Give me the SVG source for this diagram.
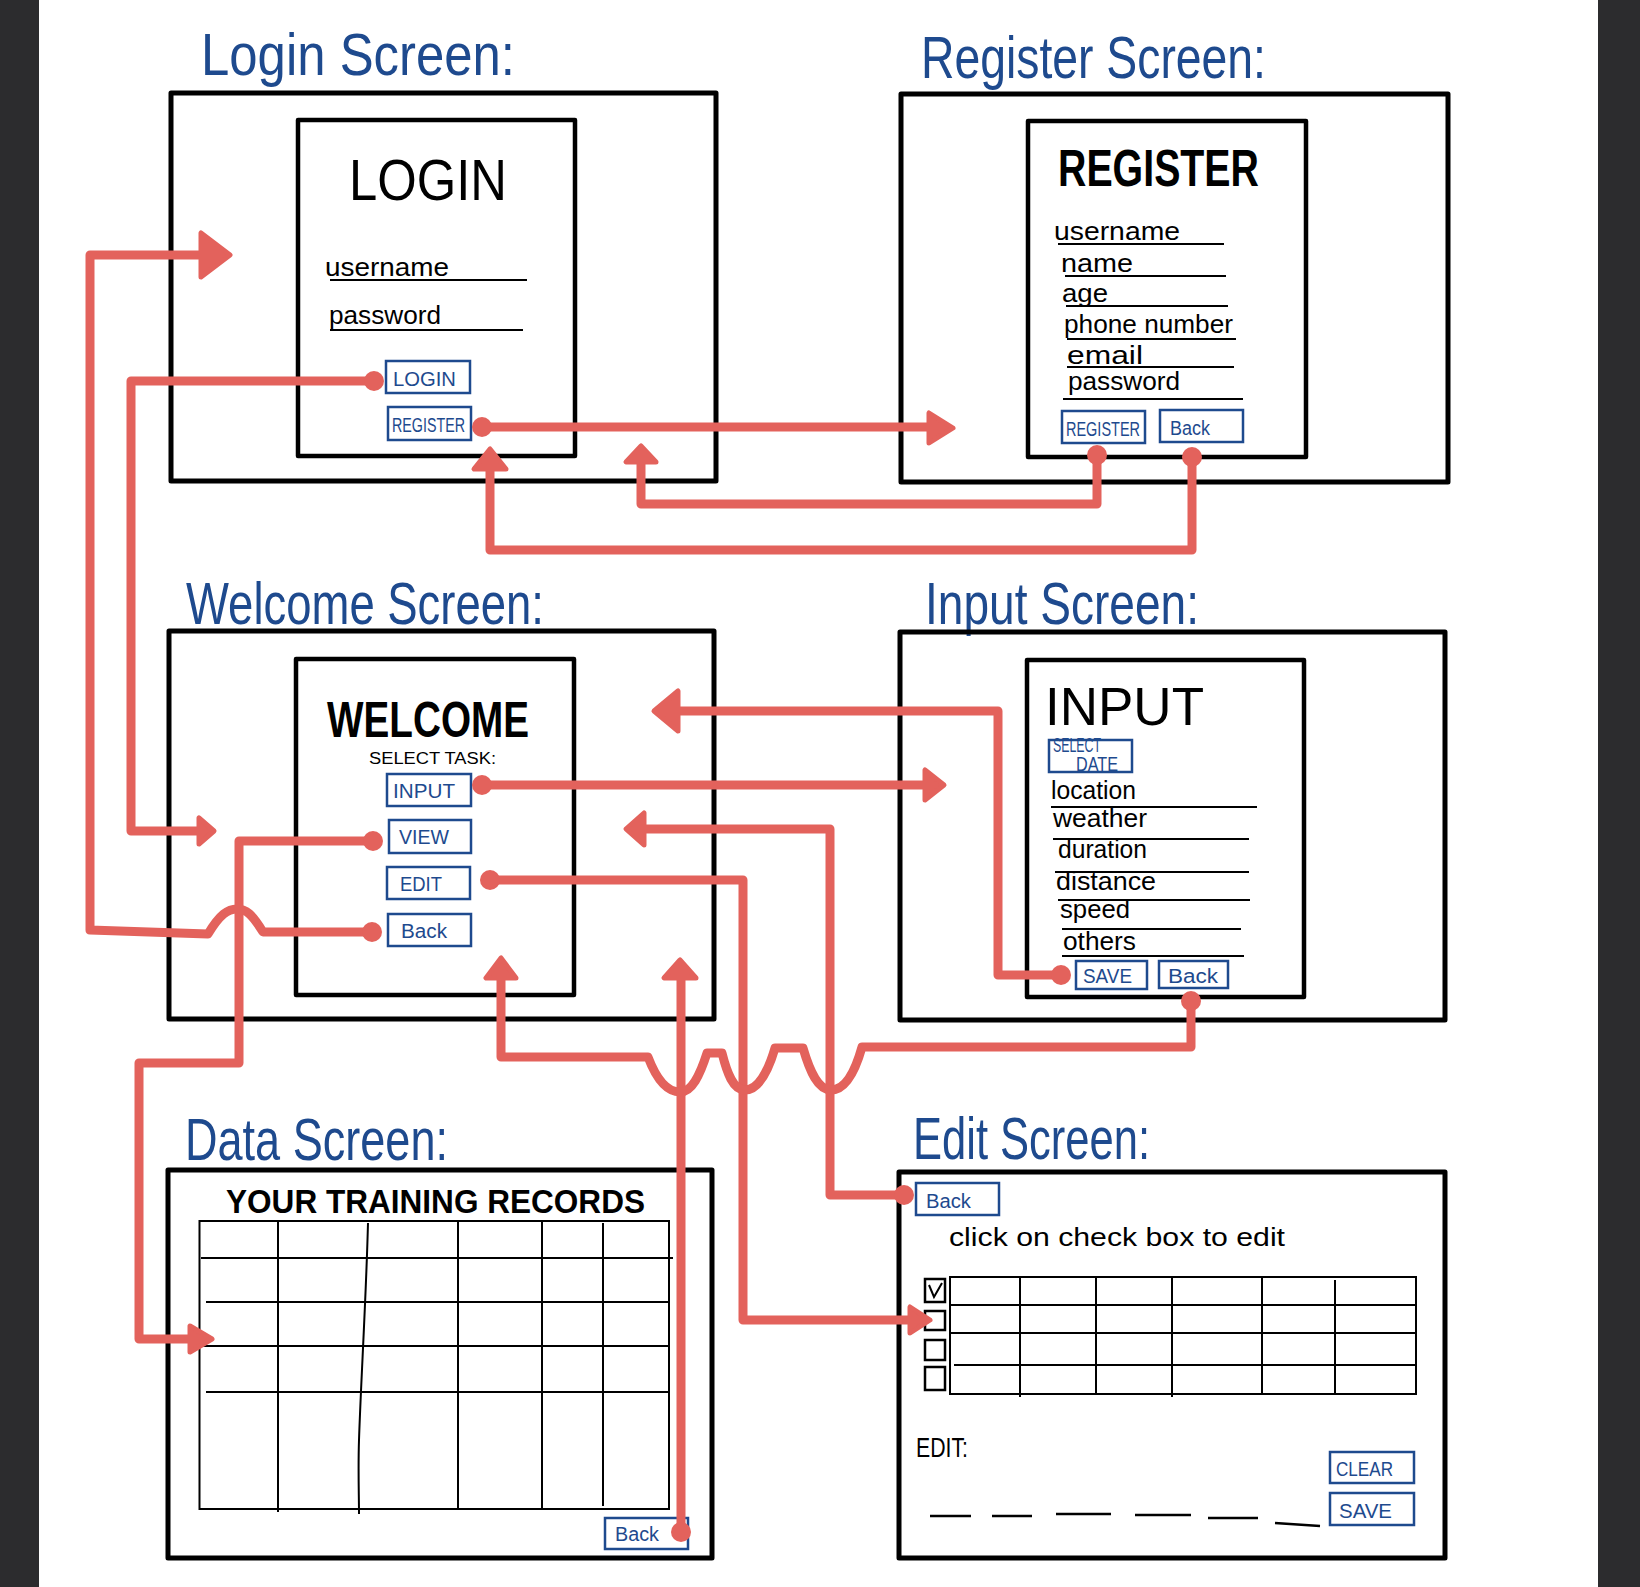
<svg xmlns="http://www.w3.org/2000/svg" width="1640" height="1587" viewBox="0 0 1640 1587">
<style>
.bg{fill:#2c2c2e}
.box{fill:none;stroke:#000;stroke-width:5;stroke-linejoin:round}
.inner{fill:none;stroke:#000;stroke-width:4.5;stroke-linejoin:round}
.ln{stroke:#000;stroke-width:2;fill:none}
.tl{stroke:#000;stroke-width:2;fill:none}
.btn{fill:#fff;stroke:#1e4a8e;stroke-width:2.5}
.title{font-family:"Liberation Sans",Arial,sans-serif;font-size:60px;fill:#1e4a8e}
.bt{font-family:"Liberation Sans",Arial,sans-serif;fill:#1e4a8e;font-size:20px}
.hd{font-family:"Liberation Sans",Arial,sans-serif;fill:#000}
.hb{font-family:"Liberation Sans",Arial,sans-serif;fill:#000;font-weight:bold}
.fld{font-family:"Liberation Sans",Arial,sans-serif;fill:#000;font-size:25px}
.conn{fill:none;stroke:#e3625c;stroke-width:9;stroke-linejoin:round;stroke-linecap:round}
.ah{fill:#e3625c;stroke:#e3625c;stroke-width:5;stroke-linejoin:round}
.dot{fill:#e3625c}
</style>
<rect x="0" y="0" width="1640" height="1587" fill="#fff"/>
<rect class="bg" x="0" y="0" width="39" height="1587"/>
<rect class="bg" x="1598" y="0" width="42" height="1587"/>

<g id="login-screen">
<text class="title" x="201" y="75" textLength="314" lengthAdjust="spacingAndGlyphs">Login Screen:</text>
<rect class="box" x="171" y="93" width="545" height="388"/>
<rect class="inner" x="298" y="120" width="277" height="336"/>
<text class="hd" x="349" y="200" font-size="57" textLength="158" lengthAdjust="spacingAndGlyphs">LOGIN</text>
<text class="fld" x="325" y="276" textLength="124" lengthAdjust="spacingAndGlyphs">username</text>
<line class="ln" x1="330" y1="280" x2="527" y2="280"/>
<text class="fld" x="329" y="324" textLength="112" lengthAdjust="spacingAndGlyphs">password</text>
<line class="ln" x1="330" y1="330" x2="523" y2="330"/>
<rect class="btn" x="386" y="361" width="84" height="32"/>
<text class="bt" x="393" y="386" font-size="19" textLength="63" lengthAdjust="spacingAndGlyphs">LOGIN</text>
<rect class="btn" x="388" y="407" width="83" height="33"/>
<text class="bt" x="392" y="432" font-size="18" textLength="73" lengthAdjust="spacingAndGlyphs">REGISTER</text>
</g>

<g id="register-screen">
<text class="title" x="921" y="78" textLength="345" lengthAdjust="spacingAndGlyphs">Register Screen:</text>
<rect class="box" x="901" y="94" width="547" height="388"/>
<rect class="inner" x="1028" y="121" width="278" height="336"/>
<text class="hb" x="1058" y="186" font-size="52" textLength="201" lengthAdjust="spacingAndGlyphs">REGISTER</text>
<text class="fld" x="1054" y="240" textLength="126" lengthAdjust="spacingAndGlyphs">username</text>
<line class="ln" x1="1058" y1="244" x2="1224" y2="244"/>
<text class="fld" x="1061" y="272" textLength="72" lengthAdjust="spacingAndGlyphs">name</text>
<line class="ln" x1="1065" y1="276" x2="1226" y2="276"/>
<text class="fld" x="1062" y="302" textLength="46" lengthAdjust="spacingAndGlyphs">age</text>
<line class="ln" x1="1066" y1="306" x2="1228" y2="306"/>
<text class="fld" x="1064" y="333" textLength="169" lengthAdjust="spacingAndGlyphs">phone number</text>
<line class="ln" x1="1067" y1="339" x2="1236" y2="339"/>
<text class="fld" x="1067" y="364" textLength="76" lengthAdjust="spacingAndGlyphs">email</text>
<line class="ln" x1="1067" y1="367" x2="1234" y2="367"/>
<text class="fld" x="1068" y="390" textLength="112" lengthAdjust="spacingAndGlyphs">password</text>
<line class="ln" x1="1063" y1="399" x2="1243" y2="399"/>
<rect class="btn" x="1062" y="411" width="83" height="32"/>
<text class="bt" x="1066" y="436" font-size="18" textLength="74" lengthAdjust="spacingAndGlyphs">REGISTER</text>
<rect class="btn" x="1160" y="410" width="83" height="32"/>
<text class="bt" x="1170" y="435" textLength="40" lengthAdjust="spacingAndGlyphs">Back</text>
</g>

<g id="welcome-screen">
<text class="title" x="186" y="624" textLength="358" lengthAdjust="spacingAndGlyphs">Welcome Screen:</text>
<rect class="box" x="169" y="631" width="545" height="388"/>
<rect class="inner" x="296" y="659" width="278" height="336"/>
<text class="hb" x="327" y="737" font-size="50" textLength="202" lengthAdjust="spacingAndGlyphs">WELCOME</text>
<text class="hd" x="369" y="764" font-size="16" textLength="127" lengthAdjust="spacingAndGlyphs">SELECT TASK:</text>
<rect class="btn" x="387" y="774" width="84" height="32"/>
<text class="bt" x="393" y="798" textLength="62" lengthAdjust="spacingAndGlyphs">INPUT</text>
<rect class="btn" x="389" y="820" width="82" height="33"/>
<text class="bt" x="399" y="844" textLength="50" lengthAdjust="spacingAndGlyphs">VIEW</text>
<rect class="btn" x="387" y="867" width="83" height="32"/>
<text class="bt" x="400" y="891" textLength="42" lengthAdjust="spacingAndGlyphs">EDIT</text>
<rect class="btn" x="388" y="914" width="83" height="32"/>
<text class="bt" x="401" y="938" font-size="22" textLength="46" lengthAdjust="spacingAndGlyphs">Back</text>
</g>

<g id="input-screen">
<text class="title" x="925" y="624" textLength="274" lengthAdjust="spacingAndGlyphs">Input Screen:</text>
<rect class="box" x="900" y="632" width="545" height="388"/>
<rect class="inner" x="1027" y="660" width="277" height="337"/>
<text class="hd" x="1045" y="725" font-size="54" textLength="159" lengthAdjust="spacingAndGlyphs">INPUT</text>
<rect class="btn" x="1049" y="740" width="83" height="32"/>
<text class="bt" x="1053" y="752" font-size="9" textLength="48" lengthAdjust="spacingAndGlyphs">SELECT</text>
<text class="bt" x="1076" y="771" font-size="9" textLength="42" lengthAdjust="spacingAndGlyphs">DATE</text>
<text class="fld" x="1051" y="799" textLength="85" lengthAdjust="spacingAndGlyphs">location</text>
<line class="ln" x1="1051" y1="807" x2="1257" y2="807"/>
<text class="fld" x="1053" y="827" textLength="94" lengthAdjust="spacingAndGlyphs">weather</text>
<line class="ln" x1="1053" y1="839" x2="1249" y2="839"/>
<text class="fld" x="1058" y="858" textLength="89" lengthAdjust="spacingAndGlyphs">duration</text>
<line class="ln" x1="1055" y1="872" x2="1249" y2="872"/>
<text class="fld" x="1056" y="890" textLength="100" lengthAdjust="spacingAndGlyphs">distance</text>
<line class="ln" x1="1058" y1="900" x2="1250" y2="900"/>
<text class="fld" x="1060" y="918" textLength="70" lengthAdjust="spacingAndGlyphs">speed</text>
<line class="ln" x1="1062" y1="929" x2="1241" y2="929"/>
<text class="fld" x="1063" y="950" textLength="73" lengthAdjust="spacingAndGlyphs">others</text>
<line class="ln" x1="1062" y1="956" x2="1244" y2="956"/>
<rect class="btn" x="1076" y="961" width="71" height="28"/>
<text class="bt" x="1083" y="983" font-size="19" textLength="49" lengthAdjust="spacingAndGlyphs">SAVE</text>
<rect class="btn" x="1159" y="961" width="69" height="27"/>
<text class="bt" x="1168" y="983" font-size="19" textLength="50" lengthAdjust="spacingAndGlyphs">Back</text>
</g>

<g id="data-screen">
<text class="title" x="185" y="1160" textLength="263" lengthAdjust="spacingAndGlyphs">Data Screen:</text>
<rect class="box" x="168" y="1170" width="544" height="388"/>
<text class="hb" x="226" y="1213" font-size="34" textLength="419" lengthAdjust="spacingAndGlyphs">YOUR TRAINING RECORDS</text>
<rect class="tl" x="199.5" y="1221" width="469.5" height="288"/>
<line class="tl" x1="201" y1="1258" x2="673" y2="1258"/>
<line class="tl" x1="206" y1="1302" x2="670" y2="1302"/>
<line class="tl" x1="199" y1="1346" x2="669" y2="1346"/>
<line class="tl" x1="206" y1="1392" x2="669" y2="1392"/>
<line class="tl" x1="278" y1="1221" x2="278" y2="1512"/>
<path class="tl" d="M368 1223 C366 1300 361 1380 359 1440 C358 1470 359 1495 359 1514"/>
<line class="tl" x1="458" y1="1221" x2="458" y2="1509"/>
<line class="tl" x1="542" y1="1221" x2="542" y2="1509"/>
<line class="tl" x1="603" y1="1223" x2="603" y2="1506"/>
<rect class="btn" x="605" y="1518" width="83" height="31"/>
<text class="bt" x="615" y="1541" textLength="44" lengthAdjust="spacingAndGlyphs">Back</text>
</g>

<g id="edit-screen">
<text class="title" x="913" y="1159" textLength="237" lengthAdjust="spacingAndGlyphs">Edit Screen:</text>
<rect class="box" x="899" y="1172" width="546" height="386"/>
<rect class="btn" x="916" y="1183" width="83" height="32"/>
<text class="bt" x="926" y="1208" textLength="45" lengthAdjust="spacingAndGlyphs">Back</text>
<text class="fld" x="949" y="1246" font-size="26" textLength="336" lengthAdjust="spacingAndGlyphs">click on check box to edit</text>
<rect x="925" y="1279" width="20" height="23" fill="none" stroke="#000" stroke-width="2.5"/>
<path d="M929 1285 L934 1297 L942 1283" fill="none" stroke="#000" stroke-width="2"/>
<rect x="925" y="1311" width="20" height="19" fill="none" stroke="#000" stroke-width="2.5"/>
<rect x="925" y="1340" width="20" height="20" fill="none" stroke="#000" stroke-width="2.5"/>
<rect x="925" y="1367" width="20" height="23" fill="none" stroke="#000" stroke-width="2.5"/>
<rect class="tl" x="950" y="1277" width="466" height="117" stroke-width="2.5"/>
<line class="tl" x1="950" y1="1305" x2="1416" y2="1305" stroke-width="2.5"/>
<line class="tl" x1="950" y1="1333" x2="1415" y2="1333" stroke-width="2.5"/>
<line class="tl" x1="954" y1="1365" x2="1416" y2="1365" stroke-width="2.5"/>
<line class="tl" x1="1020" y1="1277" x2="1020" y2="1397"/>
<line class="tl" x1="1096" y1="1277" x2="1096" y2="1394"/>
<line class="tl" x1="1172" y1="1276" x2="1172" y2="1397"/>
<line class="tl" x1="1262" y1="1277" x2="1262" y2="1394"/>
<line class="tl" x1="1335" y1="1280" x2="1335" y2="1394"/>
<text class="hd" x="916" y="1457" font-size="28" textLength="52" lengthAdjust="spacingAndGlyphs">EDIT:</text>
<rect class="btn" x="1330" y="1452" width="84" height="31"/>
<text class="bt" x="1336" y="1476" textLength="57" lengthAdjust="spacingAndGlyphs">CLEAR</text>
<rect class="btn" x="1330" y="1493" width="84" height="32"/>
<text class="bt" x="1339" y="1518" textLength="53" lengthAdjust="spacingAndGlyphs">SAVE</text>
<g stroke="#000" stroke-width="2.5">
<line x1="930" y1="1516" x2="971" y2="1516"/>
<line x1="992" y1="1516" x2="1032" y2="1516"/>
<line x1="1056" y1="1514" x2="1111" y2="1514"/>
<line x1="1135" y1="1515" x2="1191" y2="1515"/>
<line x1="1208" y1="1518" x2="1258" y2="1518"/>
<line x1="1275" y1="1523" x2="1320" y2="1526"/>
</g>
</g>

<g id="connectors">
<path class="conn" d="M482 427 H929"/>
<path class="conn" d="M1097 455 V504 H641 V462"/>
<path class="conn" d="M1192 457 V550 H490 V469"/>
<path class="conn" d="M374 381 H131 V831 H199"/>
<path class="conn" d="M372 932 H263 C252 914 246 909 237 909 C228 909 220 914 208 934 L90 930 V255 H201"/>
<path class="conn" d="M373 841 H239 V1063 H139 V1339 H190"/>
<path class="conn" d="M482 785 H925"/>
<path class="conn" d="M1061 975 H998 V711 H678"/>
<path class="conn" d="M490 880 H743 V1320 H910"/>
<path class="conn" d="M681 1532 V978"/>
<path class="conn" d="M904 1195 H830 V829 H644"/>
<path class="conn" d="M1191 1001 V1047 H862 C855 1072 845 1090 831 1090 C818 1090 810 1072 803 1048 H775 C768 1072 758 1090 745 1090 C733 1090 727 1073 722 1053 H707 C700 1075 692 1092 680 1092 C666 1092 656 1078 648 1057 L501 1057 V978"/>
<polygon class="ah" points="230,255 201,233 201,277"/>
<polygon class="ah" points="953,428 929,413 929,443"/>
<polygon class="ah" points="641,446 626,462 656,462"/>
<polygon class="ah" points="490,449 474,469 506,469"/>
<polygon class="ah" points="214,831 199,818 199,844"/>
<polygon class="ah" points="654,711 678,691 678,731"/>
<polygon class="ah" points="944,785 925,770 925,800"/>
<polygon class="ah" points="626,829 644,813 644,845"/>
<polygon class="ah" points="501,958 486,978 516,978"/>
<polygon class="ah" points="680,960 664,978 696,978"/>
<polygon class="ah" points="212,1339 190,1326 190,1352"/>
<polygon class="ah" points="930,1320 910,1307 910,1333"/>
<circle class="dot" cx="482" cy="427" r="10"/>
<circle class="dot" cx="1097" cy="455" r="10"/>
<circle class="dot" cx="1192" cy="457" r="10"/>
<circle class="dot" cx="374" cy="381" r="10"/>
<circle class="dot" cx="372" cy="932" r="10"/>
<circle class="dot" cx="373" cy="841" r="10"/>
<circle class="dot" cx="482" cy="785" r="10"/>
<circle class="dot" cx="1061" cy="975" r="10"/>
<circle class="dot" cx="490" cy="880" r="10"/>
<circle class="dot" cx="681" cy="1532" r="10"/>
<circle class="dot" cx="904" cy="1195" r="10"/>
<circle class="dot" cx="1191" cy="1001" r="10"/>
</g>
</svg>
